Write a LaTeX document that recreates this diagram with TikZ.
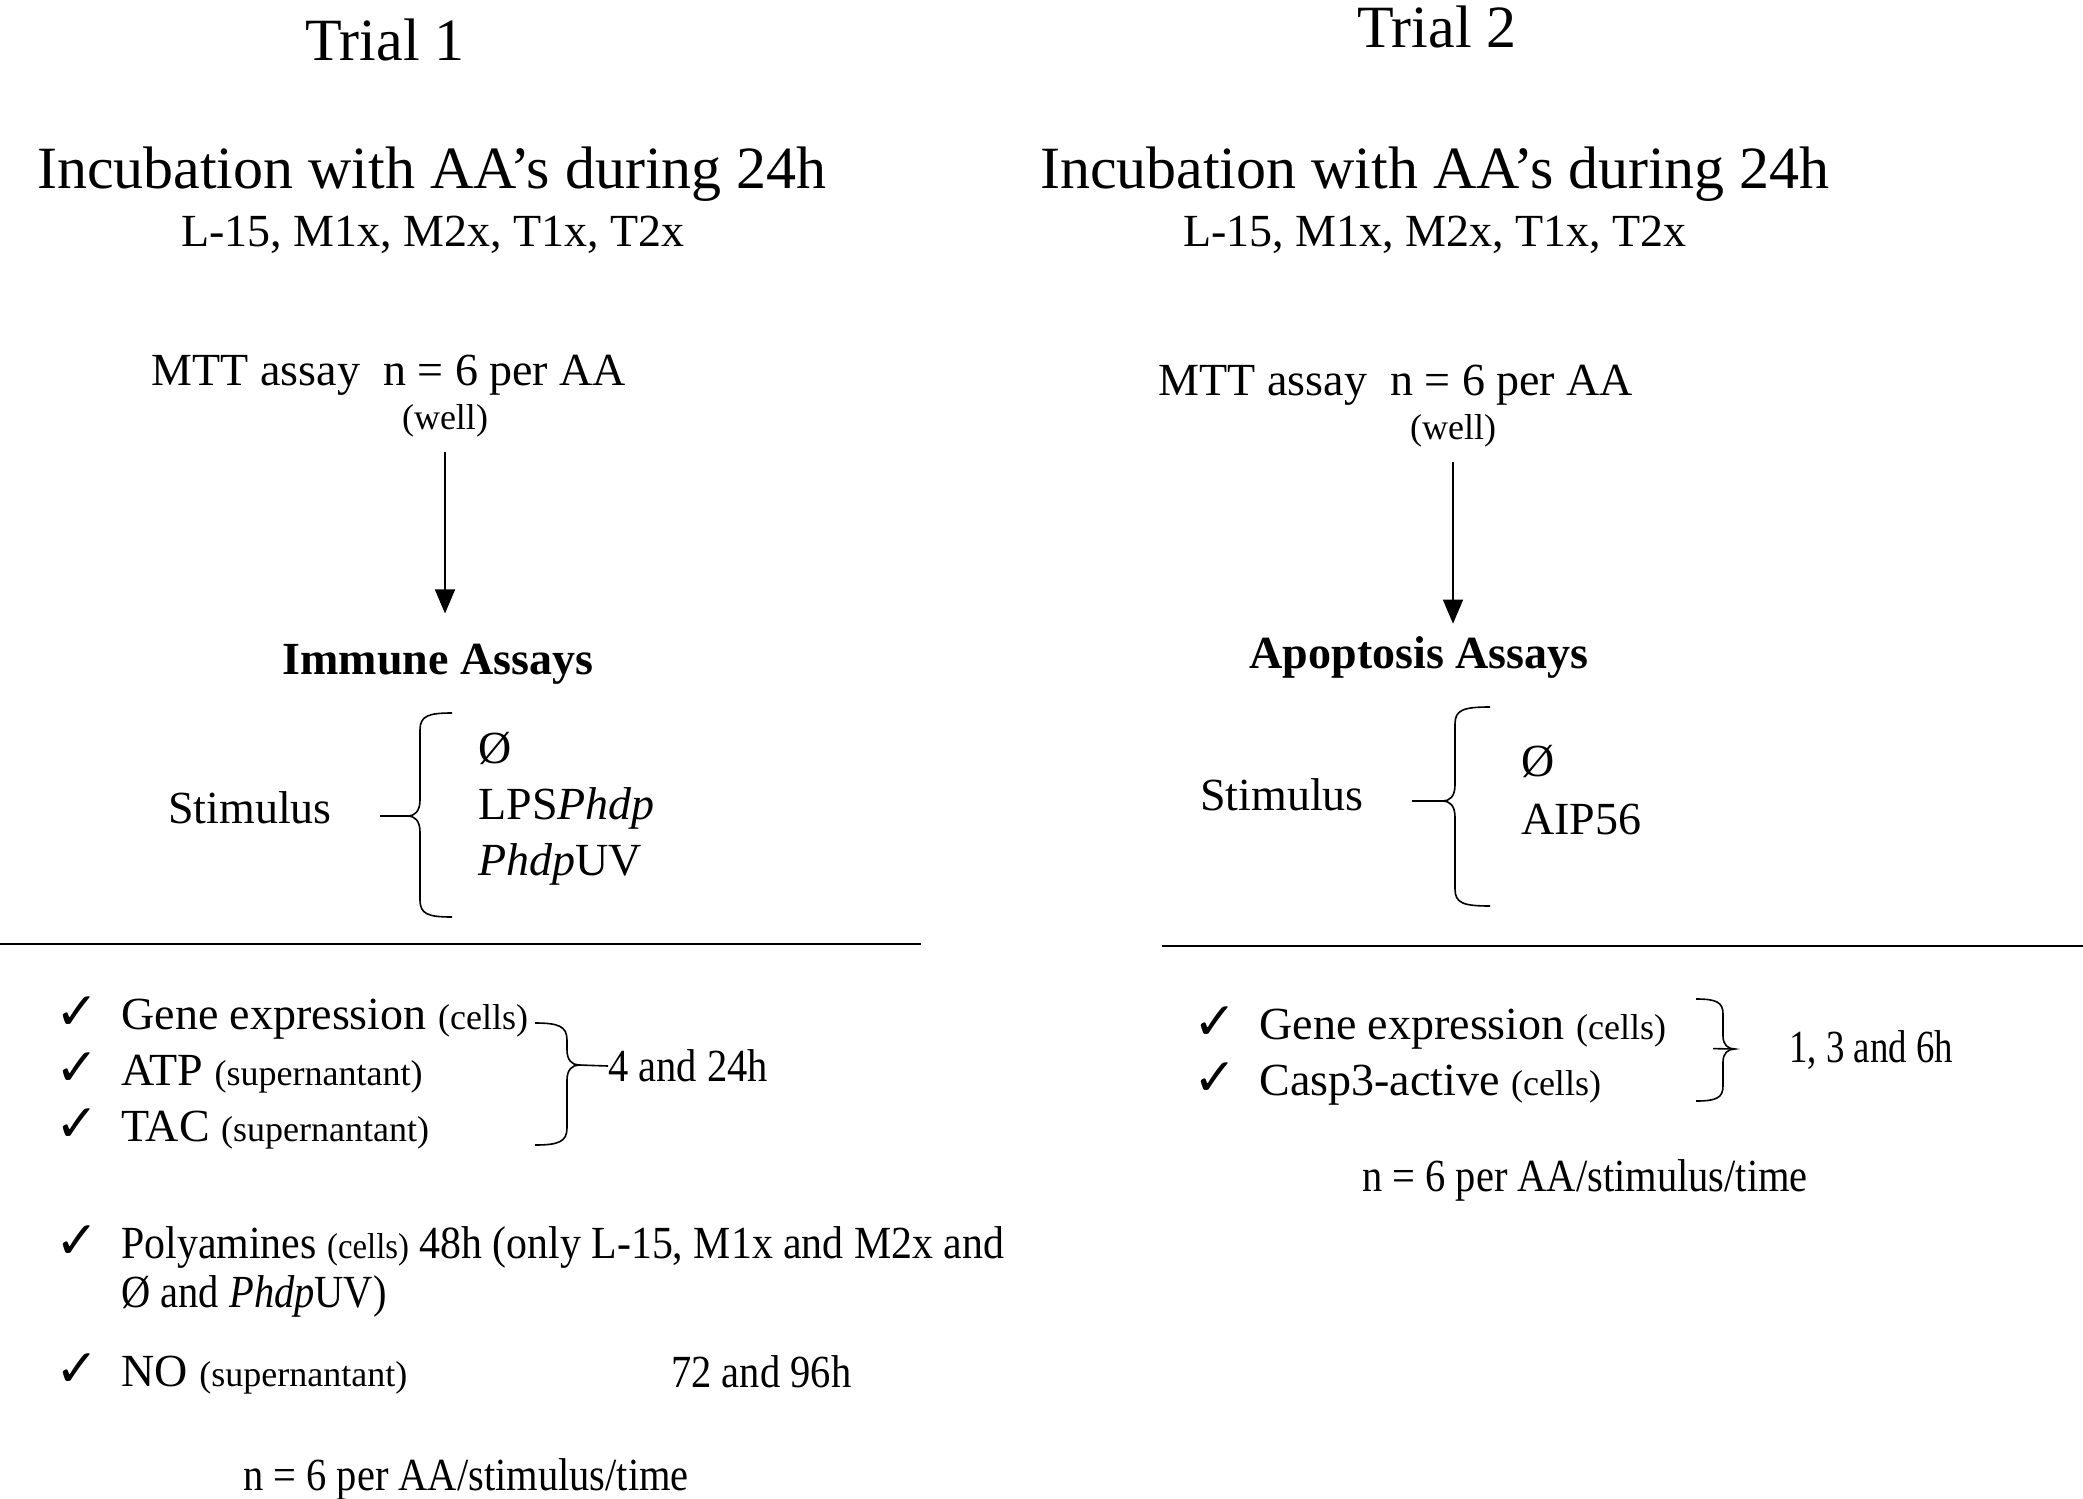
\documentclass[tikz,border=0pt]{standalone}
\usepackage{fontspec}
\setmainfont{Liberation Serif}
\newfontfamily\symfont{DejaVu Sans}
\newfontfamily\narrowfont[FakeStretch=0.88]{Liberation Serif}
\newfontfamily\polyfont[FakeStretch=0.91]{Liberation Serif}
\newfontfamily\narrowerfont[FakeStretch=0.8]{Liberation Serif}
\usetikzlibrary{positioning,arrows.meta}
\newcommand{\titlesz}{\fontsize{30}{36}\selectfont}
\newcommand{\textsz}{\fontsize{23}{28}\selectfont}
\newcommand{\notesz}{\fontsize{18}{22}\selectfont}
\newcommand{\chk}{\makebox[33pt][l]{\symfont\fontsize{26}{30}\selectfont ✓}}

\begin{document}
\begin{tikzpicture}[x=0.5pt,y=-0.5pt,
  every node/.style={inner sep=0pt,font=\textsz},
  narrowtext/.style={font=\narrowfont\textsz},
  flowarrow/.style={line width=0.8pt,-{Triangle[length=12pt,width=10pt]}},
  bracepath/.style={line width=0.8pt},
  rule/.style={line width=1pt}]
\useasboundingbox (0,0) rectangle (2083,1499);

% Trial 1
\node[font=\titlesz] (trial1) at (385,40) {Trial 1};
\node[font=\titlesz] (incub1) at (432,174) {Incubation with AA's during 24h};
\node (media1) at (433,235) {L-15, M1x, M2x, T1x, T2x};
\node (mtt1) at (389,375) {MTT assay\ \ n = 6 per AA};
\node[font=\notesz] (well1) at (445,421) {(well)};
\node[font=\bfseries\textsz] (assay1) at (438,664) {Immune Assays};
\draw[flowarrow,shorten <=7pt,shorten >=15pt] (well1.south) -- (well1.south |- assay1.north);
\node (stim1) at (250,808) {Stimulus};
\node[anchor=west] (stimA1) at (478,748) {Ø};
\node[anchor=west] (stimB1) at (478,808) {LPS\textit{Phdp}};
\node[anchor=west] (stimC1) at (478,864) {\textit{Phdp}UV};
\coordinate (tip1) at (408,816);
\draw[bracepath] (452,713) .. controls (428,713) and (420,716) .. (420,730) -- (420,800)
  .. controls (420,812) and (414,816) .. (tip1) .. controls (414,816) and (420,820) .. (420,832)
  -- (420,900) .. controls (420,914) and (428,917) .. (452,917);
\draw[bracepath,shorten <=24pt] (stim1.east |- tip1) -- (tip1);
\draw[rule] (0,944) -- (921,944);

\node[anchor=west] (gene1) at (55,1018) {\chk Gene expression {\notesz(cells)}};
\node[anchor=west] (atp1) at (55,1073) {\chk ATP {\notesz(supernantant)}};
\node[anchor=west] (tac1) at (55,1129) {\chk TAC {\notesz(supernantant)}};
\coordinate (tip2) at (579,1065);
\draw[bracepath] (535,1023) .. controls (558,1023) and (567,1026) .. (567,1040) -- (567,1050)
  .. controls (567,1060) and (572,1065) .. (tip2) .. controls (572,1065) and (567,1070) .. (567,1080)
  -- (567,1128) .. controls (567,1142) and (558,1145) .. (535,1145);
\node[narrowtext,anchor=west] (time1) at (608,1066) {4 and 24h};
\draw[bracepath] (tip2) -- (time1.west);
\node[font=\polyfont\textsz,anchor=west] (poly1) at (55,1247) {\chk Polyamines {\notesz(cells)} 48h (only L-15, M1x and M2x and};
\node[narrowtext,anchor=west] (poly1b) at (121,1296) {Ø and \textit{Phdp}UV)};
\node[anchor=west] (no1) at (55,1374) {\chk NO {\notesz(supernantant)}};
\node[narrowtext,anchor=west] (time1b) at (671,1372) {72 and 96h};
\node[narrowtext] (n1) at (466,1479) {n = 6 per AA/stimulus/time};

% Trial 2
\node[font=\titlesz] (trial2) at (1437,27) {Trial 2};
\node[font=\titlesz] (incub2) at (1435,174) {Incubation with AA's during 24h};
\node (media2) at (1435,235) {L-15, M1x, M2x, T1x, T2x};
\node (mtt2) at (1396,385) {MTT assay\ \ n = 6 per AA};
\node[font=\notesz] (well2) at (1453,431) {(well)};
\node[font=\bfseries\textsz] (assay2) at (1419,657) {Apoptosis Assays};
\draw[flowarrow,shorten <=7pt,shorten >=6pt] (well2.south) -- (well2.south |- assay2.north);
\node (stim2) at (1282,795) {Stimulus};
\node[anchor=west] (stimA2) at (1521,761) {Ø};
\node[anchor=west] (stimB2) at (1521,819) {AIP56};
\coordinate (tip3) at (1443,801);
\draw[bracepath] (1490,707) .. controls (1463,707) and (1455,710) .. (1455,724) -- (1455,785)
  .. controls (1455,797) and (1449,801) .. (tip3) .. controls (1449,801) and (1455,805) .. (1455,817)
  -- (1455,889) .. controls (1455,903) and (1463,906) .. (1490,906);
\draw[bracepath,shorten <=24pt] (stim2.east |- tip3) -- (tip3);
\draw[rule] (1162,946) -- (2083,946);

\node[anchor=west] (gene2) at (1193,1028) {\chk Gene expression {\notesz(cells)}};
\node[anchor=west] (casp2) at (1193,1084) {\chk Casp3-active {\notesz(cells)}};
\coordinate (tip4) at (1735,1049);
\draw[bracepath] (1696,999) .. controls (1716,999) and (1723,1002) .. (1723,1014) -- (1723,1036)
  .. controls (1723,1045) and (1728,1049) .. (tip4) .. controls (1728,1049) and (1723,1053) .. (1723,1062)
  -- (1723,1086) .. controls (1723,1098) and (1716,1101) .. (1696,1101);
\node[font=\narrowerfont\textsz,anchor=west] (time2) at (1789,1050) {1, 3 and 6h};
\draw[bracepath,shorten >=38pt] (tip4) -- (time2.west);
\node[narrowtext] (n2) at (1585,1180) {n = 6 per AA/stimulus/time};
\end{tikzpicture}
\end{document}
